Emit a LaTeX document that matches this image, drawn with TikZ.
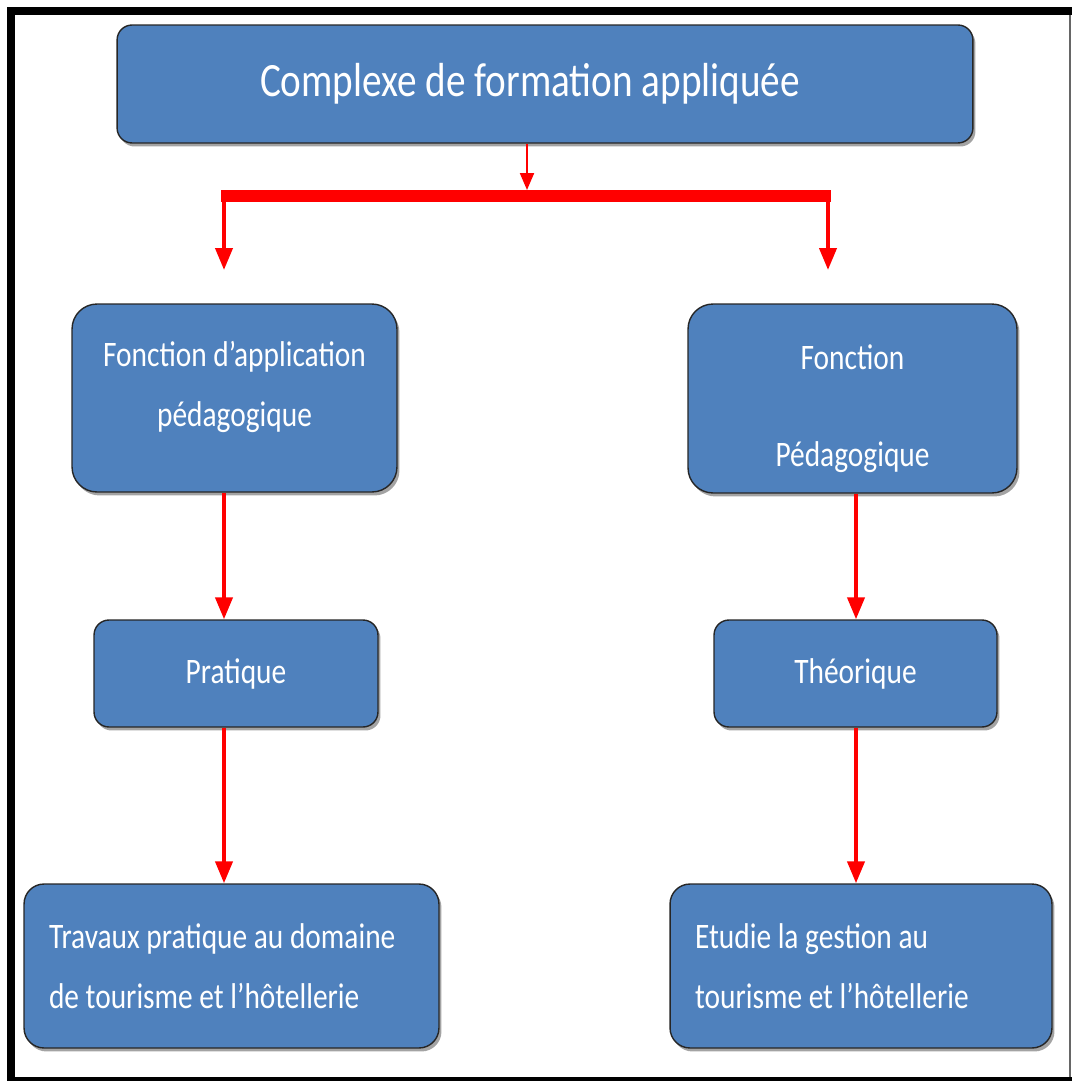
\documentclass[tikz,border=0pt]{standalone}
\usepackage{fontspec}
\setmainfont{Carlito}[FakeStretch=0.82]
\usetikzlibrary{arrows.meta,shadows}
\definecolor{boxblue}{HTML}{4F81BD}
\begin{document}
\begin{tikzpicture}[x=0.02cm, y=-0.02cm,
  blok/.style={draw=black!85, line width=0.8pt, fill=boxblue, rounded corners=0.4cm,
    text=white, align=center, inner sep=0pt,
    drop shadow={shadow xshift=0.05cm, shadow yshift=-0.07cm, fill=black!45, opacity=0.8},
    font=\fontsize{20.4pt}{34pt}\selectfont},
  redarrow/.style={draw=red, line width=2.3pt, -{Triangle[width=0.34cm,length=0.44cm]}}]
  \useasboundingbox (0,0) rectangle (1072,1081);
  % Frame (thick top, left and bottom, thin right)
  \fill[black] (7,7) rectangle (1072,15);
  \fill[black] (7,7) rectangle (15,1081);
  \fill[black] (7,1077) rectangle (1072,1081);
  \draw[black!60, line width=0.6pt] (1070,15) -- (1070,1077);
  % Top box
  \node[blok, minimum width=17.12cm, minimum height=2.36cm, rounded corners=0.3cm,
    font=\fontsize{27.2pt}{32pt}\selectfont] (cfa) at (545,84) {Complexe de formation appliquée\hspace*{0.6cm}};
  % Second row
  \node[blok, minimum width=6.5cm, minimum height=3.76cm, rounded corners=0.5cm] (fap) at (234.5,398)
    {Fonction d’application\\pédagogique\\[-18pt]};
  \node[blok, minimum width=6.58cm, minimum height=3.78cm, rounded corners=0.5cm] (fpe) at (852.5,398.5)
    {Fonction\\[21pt]Pédagogique\\[-42pt]};
  % Third row
  \node[blok, minimum width=5.68cm, minimum height=2.14cm, rounded corners=0.3cm] (pra) at (236,673.5) {Pratique};
  \node[blok, minimum width=5.66cm, minimum height=2.14cm, rounded corners=0.3cm] (the) at (855.5,673.5) {Théorique};
  % Bottom row
  \node[blok, text width=7.3cm, inner xsep=0.5cm, minimum height=3.28cm, align=flush left] (tpd) at (231.5,966)
    {Travaux pratique au domaine\\de tourisme et l’hôtellerie};
  \node[blok, text width=6.64cm, inner xsep=0.5cm, minimum height=3.28cm, align=flush left] (egt) at (861,966)
    {Etudie la gestion au\\tourisme et l’hôtellerie};
  % Branching bar
  \coordinate (hub) at (527,190);
  \coordinate (barL) at (224,196);
  \coordinate (barR) at (828,196);
  \coordinate (tipL) at (224,270);
  \coordinate (tipR) at (828,270);
  \coordinate (colR) at (856,600);
  \draw[red, line width=1.2pt, -{Triangle[width=0.28cm,length=0.34cm]}] (cfa.south -| hub) -- (hub);
  \draw[red, line width=6.8pt] ([xshift=-0.06cm]barL) -- ([xshift=0.06cm]barR);
  \draw[redarrow] ([yshift=0.12cm]barL) -- (tipL);
  \draw[redarrow] ([yshift=0.12cm]barR) -- (tipR);
  % Columns
  \draw[redarrow] (fap.south -| barL) -- (pra.north -| barL);
  \draw[redarrow] (pra.south -| barL) -- (tpd.north -| barL);
  \draw[redarrow] (fpe.south -| colR) -- (the.north -| colR);
  \draw[redarrow] (the.south -| colR) -- (egt.north -| colR);
\end{tikzpicture}
\end{document}
